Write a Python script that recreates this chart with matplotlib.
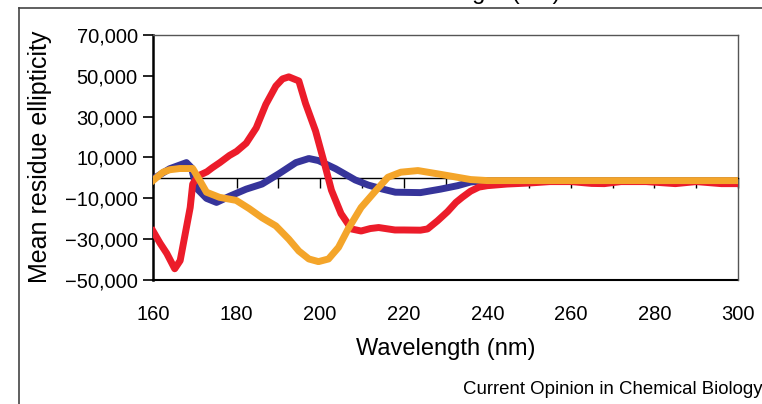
import matplotlib
matplotlib.use("Agg")
import matplotlib.pyplot as plt
from matplotlib.lines import Line2D
from matplotlib.ticker import FuncFormatter

plt.rcParams['font.family'] = ['Liberation Sans', 'DejaVu Sans']

# CD spectra (wavelength in nm, mean residue ellipticity)
red_wl = [160, 161.7, 163.3, 165.2, 166.5, 167.7, 168.9, 169.5, 170.8, 172.9,
          174.2, 176, 178.3, 180, 182.3, 184.7, 187, 189.4, 191, 192.5,
          194.9, 196.5, 198.9, 201.3, 202.7, 205, 207.5, 209.8, 212, 214,
          217.9, 220, 224, 225.7, 228.1, 230.5, 232.5, 234, 236, 238,
          240, 244.7, 250, 255, 260, 265, 268, 272, 278, 285,
          290, 296, 300]
red_val = [-26000, -32000, -37000, -44500, -40500, -27500, -14500, -3000, 1000, 3000,
           5000, 7500, 11000, 13000, 17000, 24500, 36000, 45000, 48500, 49500,
           47500, 36500, 23000, 5000, -6000, -17500, -25000, -26000, -24800, -24300,
           -25500, -25500, -25600, -25000, -21000, -16500, -12000, -9500, -6500, -4500,
           -3800, -3000, -2500, -1800, -1800, -2700, -2800, -1800, -1800, -2800,
           -1800, -2800, -2800]

blue_wl = [160, 162, 164, 166, 168, 169.2, 170.4, 172.8, 175.2, 178.3,
           182.3, 186.1, 190.1, 194.2, 197.3, 199.6, 203.7, 208.4, 211.5, 215,
           218, 224, 228.8, 232.9, 236, 240, 250, 270, 300]
blue_val = [-500, 2000, 4500, 6000, 7500, 5000, -5000, -10000, -12000, -9000,
            -5500, -3000, 2000, 7500, 9500, 8500, 4500, -1000, -3500, -5500,
            -7000, -7200, -5500, -3800, -2000, -1300, -1300, -1300, -1300]

yellow_wl = [160, 162.4, 164, 166.4, 169.5, 171.2, 172.8, 175.9, 179.9, 183,
             186.1, 189.4, 192.5, 194.9, 197.3, 199.6, 202, 204.4, 206.7, 209.8,
             213.2, 216.2, 219.3, 223.4, 228.1, 232.9, 236, 240, 250, 270, 300]
yellow_val = [-1300, 2800, 4000, 4600, 4600, -1300, -7000, -9500, -11000, -15000,
              -19500, -23500, -30000, -35800, -39700, -41000, -39700, -34000, -25000, -14500,
              -6500, 300, 2800, 3600, 2000, 300, -800, -1300, -1300, -1300, -1300]

x_ticks = [160, 180, 200, 220, 240, 260, 280, 300]
y_ticks = [-50000, -30000, -10000, 10000, 30000, 50000, 70000]

fig = plt.figure(figsize=(7.62, 4.04), dpi=100)
ax = fig.add_axes([153 / 762, 1 - 280 / 404, (738 - 153) / 762, (280 - 35) / 404])

ax.plot(blue_wl, blue_val, color='#36349a', lw=5, zorder=3)
ax.plot(red_wl, red_val, color='#ec1c2a', lw=5, zorder=4)
ax.plot(yellow_wl, yellow_val, color='#f4a52a', lw=5, zorder=5)

ax.set_xlim(160, 300)
ax.set_ylim(-50000, 70000)

# x axis crosses at zero, labels sit below the plot area
ax.spines['bottom'].set_position(('data', 0))
ax.spines['bottom'].set_color('black')
ax.spines['bottom'].set_linewidth(1.0)
ax.set_xticks(x_ticks)
ax.set_xticks(range(170, 300, 20), minor=True)
ax.tick_params(axis='x', which='both', direction='out', length=7, width=1,
               labelbottom=False)

sec = ax.secondary_xaxis('bottom')
sec.set_xticks(x_ticks)
sec.tick_params(length=0, pad=18, labelsize=14.5)
sec.spines['bottom'].set_linewidth(1.5)
sec.spines['bottom'].set_color('black')

ax.set_yticks(y_ticks)
ax.yaxis.set_major_formatter(FuncFormatter(lambda v, p: f"{int(v):,}".replace('-', '\u2212')))
ax.tick_params(axis='y', direction='out', length=7, width=1.2, pad=4, labelsize=14.5)
ax.spines['left'].set_linewidth(1.8)
ax.spines['left'].set_color('black')
for s in ('top', 'right'):
    ax.spines[s].set_color('#555555')
    ax.spines[s].set_linewidth(1.0)

fig.text(40 / 762, 1 - 157 / 404, 'Mean residue ellipticity', rotation=90,
         ha='center', va='center', fontsize=18)
fig.text(446 / 762, 1 - 349 / 404, 'Wavelength (nm)', ha='center', va='center',
         fontsize=17)
fig.text(463 / 762, 1 - 390 / 404, 'Current Opinion in Chemical Biology',
         ha='left', va='center', fontsize=13.4)

# cut-off label of the panel above, only descenders show
fig.text(471 / 762, 1 + 1.5 / 404, 'Wavelength (nm)', ha='center', va='baseline',
         fontsize=17)

# outer panel frame
fig.add_artist(Line2D([19 / 762, 19 / 762], [0, 1 - 8 / 404], transform=fig.transFigure,
                      color='#444444', lw=1.2))
fig.add_artist(Line2D([19 / 762, 1], [1 - 8 / 404, 1 - 8 / 404], transform=fig.transFigure,
                      color='#444444', lw=1.2))

fig.savefig('out.png', dpi=100)
